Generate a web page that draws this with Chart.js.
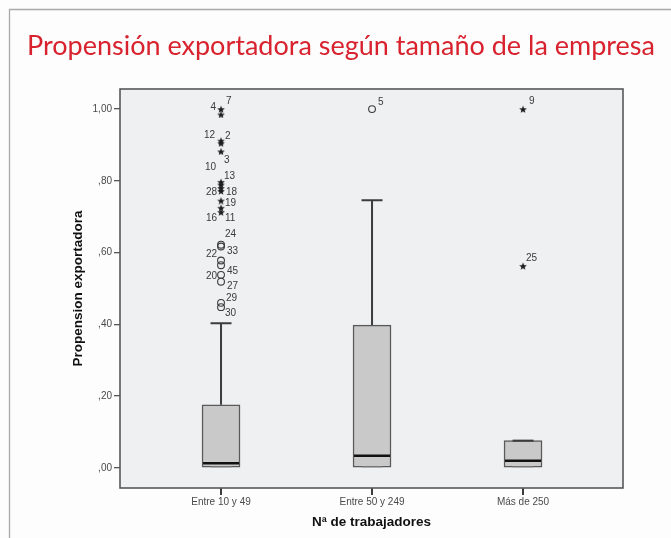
<!DOCTYPE html>
<html lang="es">
<head>
<meta charset="utf-8">
<title>Propensión exportadora según tamaño de la empresa</title>
<script src="https://cdn.jsdelivr.net/npm/chart.js@4/dist/chart.umd.min.js"></script>
<style>
  html, body { margin: 0; padding: 0; background: #fdfdfd; }
  #wrap { position: relative; width: 671px; height: 538px; }
</style>
</head>
<body>
<div id="wrap"><canvas id="chart" width="671" height="538"></canvas></div>
<script>
// Box summaries per company size
const categories = ['Entre 10 y 49', 'Entre 50 y 249', 'Más de 250'];
const boxQ1 = [0.000, 0.000, 0.000];
const boxMedian = [0.013, 0.034, 0.020];
const boxQ3 = [0.176, 0.398, 0.076];
const whiskerLow = [0.000, 0.000, 0.000];
const whiskerHigh = [0.403, 0.746, 0.076];

// Individual outlying cases: group index, value, case number, extreme (star) or not (circle)
const outlierGroup = [0, 0, 0, 0, 0, 0, 0, 0, 0, 0, 0, 0,
                      0, 0, 0, 0, 0, 0, 0, 0,
                      1, 2, 2];
const outlierValue = [1.000, 0.985, 0.912, 0.905, 0.882, 0.797, 0.790, 0.780, 0.772, 0.745, 0.725, 0.713,
                      0.622, 0.617, 0.578, 0.565, 0.538, 0.519, 0.460, 0.448,
                      1.000, 1.000, 0.563];
const outlierCase = ['7', '4', '12', '2', '3', '10', '13', '28', '18', '19', '16', '11',
                     '24', '33', '22', '45', '20', '27', '29', '30',
                     '5', '9', '25'];
const outlierExtreme = [true, true, true, true, true, true, true, true, true, true, true, true,
                        false, false, false, false, false, false, false, false,
                        false, true, true];

// Axis ticks
const yTickValues = [0, 0.2, 0.4, 0.6, 0.8, 1.0];
const yMin = -0.056, yMax = 1.056;

// Where each case number sits next to its marker (pixels from the marker)
const labelNudge = {
  '7': [5, -8], '4': [-5, -7], '12': [-6, -5], '2': [4, -7], '3': [3, 8.5],
  '10': [-5, -15], '13': [3, -8], '28': [-4, 4], '18': [5, 1], '19': [4, 3],
  '16': [-4, 10.5], '11': [4, 6],
  '24': [4, -10], '33': [6, 4.5], '22': [-4, -6.5], '45': [6, 6.5],
  '20': [-4, 1], '27': [6, 4.5], '29': [5, -4.5], '30': [4, 6],
  '5': [6, -6.5], '9': [6, -7.5], '25': [3, -8]
};

function makeStar(size, color) {
  const c = document.createElement('canvas');
  c.width = size; c.height = size;
  const g = c.getContext('2d');
  g.fillStyle = color;
  g.beginPath();
  for (let i = 0; i < 10; i++) {
    const r = i % 2 ? size * 0.22 : size * 0.5;
    const a = -Math.PI / 2 + i * Math.PI / 5;
    g.lineTo(size / 2 + r * Math.cos(a), size / 2 + 0.6 + r * Math.sin(a));
  }
  g.closePath();
  g.fill();
  return c;
}
const starMark = makeStar(8, '#1e1e1e');

const boxData = categories.map((c, i) => ({ x: i, y: [boxQ1[i], boxQ3[i]] }));
const circlePts = [], starPts = [];
outlierValue.forEach((v, i) => {
  const p = { x: outlierGroup[i], y: v };
  (outlierExtreme[i] ? starPts : circlePts).push(p);
});

const tickFont = { family: '"Liberation Sans", Arial, sans-serif', size: 10 };
const titleFont = { family: '"Liberation Sans", Arial, sans-serif', size: 13.5, weight: 'bold' };

const boxPlotPlugin = {
  id: 'boxPlot',
  beforeDraw(chart) {
    const { ctx, chartArea: a, scales: { x } } = chart;
    ctx.save();
    // outer panel frame
    ctx.strokeStyle = '#a9a9a9';
    ctx.lineWidth = 1.3;
    ctx.beginPath();
    ctx.moveTo(9.5, 538);
    ctx.lineTo(9.5, 9.5);
    ctx.lineTo(671, 9.5);
    ctx.stroke();
    // plot background
    ctx.fillStyle = '#eef0f2';
    ctx.fillRect(a.left, a.top, a.right - a.left, a.bottom - a.top);
    // category tick marks under the plot
    ctx.fillStyle = '#3c3c3c';
    categories.forEach((c, i) => {
      const px = Math.round(x.getPixelForValue(i));
      ctx.fillRect(px - 1, Math.round(a.bottom), 2, 7);
    });
    ctx.restore();
  },
  afterDatasetDraw(chart, args) {
    if (args.index !== 0) return;
    const { ctx, scales: { x, y } } = chart;
    ctx.save();
    categories.forEach((c, i) => {
      const cx = x.getPixelForValue(i);
      // whiskers and caps
      ctx.strokeStyle = '#3c3c3c';
      ctx.lineWidth = 2;
      ctx.beginPath();
      ctx.moveTo(cx, y.getPixelForValue(boxQ3[i]));
      ctx.lineTo(cx, y.getPixelForValue(whiskerHigh[i]));
      ctx.moveTo(cx - 10.5, y.getPixelForValue(whiskerHigh[i]));
      ctx.lineTo(cx + 10.5, y.getPixelForValue(whiskerHigh[i]));
      ctx.stroke();
      ctx.strokeStyle = '#8a8a8a';
      ctx.lineWidth = 1;
      ctx.beginPath();
      ctx.moveTo(cx - 10.5, y.getPixelForValue(whiskerLow[i]) - 1);
      ctx.lineTo(cx + 10.5, y.getPixelForValue(whiskerLow[i]) - 1);
      ctx.stroke();
      // median
      const my = y.getPixelForValue(boxMedian[i]);
      ctx.strokeStyle = '#111';
      ctx.lineWidth = 2.6;
      ctx.beginPath();
      ctx.moveTo(cx - 18, my);
      ctx.lineTo(cx + 18, my);
      ctx.stroke();
    });
    ctx.restore();
  },
  afterDatasetsDraw(chart) {
    const { ctx, scales: { x, y } } = chart;
    ctx.save();
    ctx.fillStyle = '#3a3a3a';
    ctx.font = '10px "Liberation Sans", Arial, sans-serif';
    ctx.textBaseline = 'middle';
    outlierValue.forEach((v, i) => {
      const px = x.getPixelForValue(outlierGroup[i]);
      const py = y.getPixelForValue(v);
      const [dx, dy] = labelNudge[outlierCase[i]] || [5, -7];
      ctx.textAlign = dx < 0 ? 'right' : 'left';
      ctx.fillText(outlierCase[i], px + dx, py + dy);
    });
    ctx.restore();
  },
  afterDraw(chart) {
    const { ctx, chartArea: a } = chart;
    ctx.save();
    ctx.strokeStyle = '#585858';
    ctx.lineWidth = 1.6;
    ctx.strokeRect(a.left, a.top, a.right - a.left, a.bottom - a.top);
    ctx.restore();
  }
};

new Chart(document.getElementById('chart'), {
  type: 'bar',
  data: {
    datasets: [
      {
        type: 'bar',
        data: boxData,
        backgroundColor: '#c9c9c9',
        borderColor: '#595959',
        borderWidth: 1.5,
        borderSkipped: false,
        barThickness: 38,
        order: 2
      },
      {
        type: 'scatter',
        data: circlePts,
        pointStyle: 'circle',
        pointRadius: 3.4,
        pointBorderWidth: 1.1,
        pointBorderColor: '#3a3a3a',
        pointBackgroundColor: 'rgba(0,0,0,0)',
        order: 1
      },
      {
        type: 'scatter',
        data: starPts,
        pointStyle: starMark,
        pointRadius: 4,
        order: 1
      }
    ]
  },
  options: {
    responsive: false,
    animation: false,
    devicePixelRatio: 1,
    layout: { padding: { left: 27, top: 0, right: 0, bottom: 0 } },
    plugins: {
      legend: { display: false },
      tooltip: { enabled: false },
      title: {
        display: true,
        text: 'Propensión exportadora según tamaño de la empresa',
        align: 'start',
        color: '#d8232f',
        font: { family: 'Lato, "Noto Sans", sans-serif', size: 27, weight: 'normal' },
        padding: { top: 30.5, bottom: 26.1 }
      }
    },
    scales: {
      x: {
        type: 'linear',
        position: 'bottom',
        offset: false,
        min: -0.669,
        max: 2.662,
        afterBuildTicks(s) { s.ticks = categories.map((c, i) => ({ value: i })); },
        afterFit(s) { s.height = 50; },
        ticks: {
          font: tickFont,
          color: '#4a4a4a',
          padding: 8,
          autoSkip: false,
          maxRotation: 0,
          callback: (v) => categories[v]
        },
        grid: { display: false, tickLength: 0 },
        border: { display: false },
        title: {
          display: true,
          text: 'Nª de trabajadores',
          font: titleFont,
          color: '#111',
          padding: { top: 0, bottom: 7.9 }
        }
      },
      y: {
        type: 'linear',
        position: 'left',
        min: yMin,
        max: yMax,
        afterBuildTicks(s) { s.ticks = yTickValues.map(v => ({ value: v })); },
        afterFit(s) { s.width = 93; },
        ticks: {
          font: tickFont,
          color: '#4a4a4a',
          padding: 2,
          callback: (v) => v.toFixed(2).replace('.', ',').replace(/^0/, '')
        },
        grid: { drawOnChartArea: false, tickLength: 6, color: '#555', lineWidth: 1.3 },
        border: { display: false },
        title: {
          display: true,
          text: 'Propension exportadora',
          font: titleFont,
          color: '#111',
          padding: { top: 42.9, bottom: 0 }
        }
      },
      side: {
        type: 'linear',
        position: 'right',
        display: true,
        afterFit(s) { s.width = 48; },
        ticks: { display: false },
        grid: { display: false },
        border: { display: false }
      }
    }
  },
  plugins: [boxPlotPlugin]
});
</script>
</body>
</html>
